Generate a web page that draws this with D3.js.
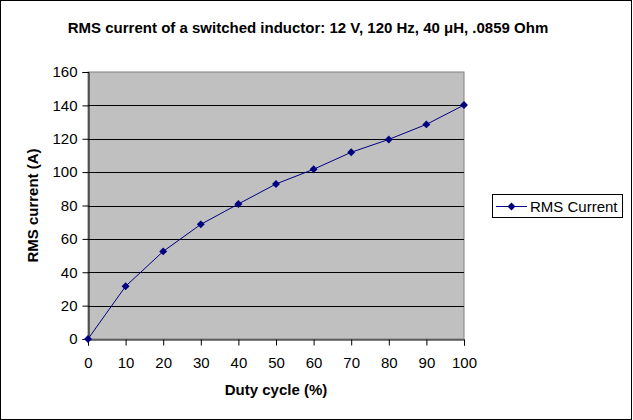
<!DOCTYPE html>
<html>
<head>
<meta charset="utf-8">
<script src="https://cdn.jsdelivr.net/npm/d3@7"></script>
<style>
  body { margin: 0; background: #fff; }
  svg { display: block; font-family: Arial, "Liberation Sans", sans-serif; }
</style>
</head>
<body>
<svg id="chart"></svg>
<script>
// data
const dutyCycle = [0, 10, 20, 30, 40, 50, 60, 70, 80, 90, 100];
const rmsCurrent = [0, 31.6, 52.5, 68.7, 80.9, 92.9, 101.7, 111.9, 119.6, 128.6, 140.2];
const yTicks = [0, 20, 40, 60, 80, 100, 120, 140, 160];
const xTicks = [0, 10, 20, 30, 40, 50, 60, 70, 80, 90, 100];
const seriesName = "RMS Current";

const W = 633, H = 420;
const margin = { top: 72, left: 88, right: 169, bottom: 81 };
const width = W - margin.left - margin.right;
const height = H - margin.top - margin.bottom;
const navy = "#000080";

const svg = d3.select("#chart").attr("width", W).attr("height", H);

// outer frame
svg.append("rect")
  .attr("x", 0.5).attr("y", 0.5)
  .attr("width", W - 2).attr("height", H - 1)
  .attr("fill", "#fff").attr("stroke", "#000");

// title
svg.append("text")
  .attr("x", 308).attr("y", 33)
  .attr("text-anchor", "middle")
  .style("font-size", "15px").style("font-weight", "bold")
  .text("RMS current of a switched inductor: 12 V, 120 Hz, 40 μH, .0859 Ohm");

const x = d3.scaleLinear().domain([0, 100]).range([0, width]);
const y = d3.scaleLinear().domain([0, 160]).range([height, 0]);

const chart = svg.append("g")
  .attr("transform", `translate(${margin.left},${margin.top})`);

// plot area
chart.append("rect")
  .attr("width", width).attr("height", height)
  .attr("fill", "#c0c0c0").attr("stroke", "#808080");

// gridlines
chart.selectAll(".grid")
  .data(yTicks.filter(d => d > 0 && d < 160))
  .join("line")
  .attr("class", "grid")
  .attr("x1", 0).attr("x2", width)
  .attr("y1", d => Math.round(y(d)) + 0.5)
  .attr("y2", d => Math.round(y(d)) + 0.5)
  .attr("stroke", "#000");

// axes
const yAxis = d3.axisLeft(y).tickValues(yTicks).tickSize(6).tickPadding(5);
const xAxis = d3.axisBottom(x).tickValues(xTicks).tickSize(6).tickPadding(6);

const yG = chart.append("g").attr("transform", "translate(0.5,0)").call(yAxis);
const xG = chart.append("g").attr("transform", `translate(0,${height + 0.5})`).call(xAxis);

[yG, xG].forEach(g => {
  g.select(".domain").attr("stroke", "#000");
  g.selectAll(".tick line").attr("stroke", "#000");
  g.selectAll(".tick text")
    .attr("fill", "#000")
    .style("font-size", "15px")
    .style("font-family", "Arial, 'Liberation Sans', sans-serif");
});
xG.selectAll(".tick text").attr("y", 28).attr("dy", 0);

// axis titles
svg.append("text")
  .attr("x", 276).attr("y", 395)
  .attr("text-anchor", "middle")
  .style("font-size", "15px").style("font-weight", "bold")
  .text("Duty cycle (%)");

svg.append("text")
  .attr("transform", `translate(38,${margin.top + height / 2}) rotate(-90)`)
  .attr("text-anchor", "middle")
  .style("font-size", "15px").style("font-weight", "bold")
  .text("RMS current (A)");

// series
const pts = dutyCycle.map((d, i) => ({ x: d, y: rmsCurrent[i] }));

chart.append("path")
  .datum(pts)
  .attr("fill", "none")
  .attr("stroke", navy)
  .attr("stroke-width", 1)
  .attr("d", d3.line().x(d => x(d.x)).y(d => y(d.y)));

const diamond = d3.symbol().type(d3.symbolDiamond2).size(40);

chart.selectAll(".pt")
  .data(pts)
  .join("path")
  .attr("class", "pt")
  .attr("transform", d => `translate(${x(d.x)},${y(d.y)})`)
  .attr("d", diamond)
  .attr("fill", navy);

// legend
const leg = svg.append("g").attr("transform", "translate(492,194)");
leg.append("rect")
  .attr("x", 0.5).attr("y", 0.5)
  .attr("width", 130).attr("height", 23)
  .attr("fill", "#fff").attr("stroke", "#000");
leg.append("line")
  .attr("x1", 4).attr("x2", 35)
  .attr("y1", 12.5).attr("y2", 12.5)
  .attr("stroke", navy);
leg.append("path")
  .attr("transform", "translate(19.5,12.5)")
  .attr("d", diamond)
  .attr("fill", navy);
leg.append("text")
  .attr("x", 38).attr("y", 18)
  .style("font-size", "15px")
  .text(seriesName);
</script>
</body>
</html>
